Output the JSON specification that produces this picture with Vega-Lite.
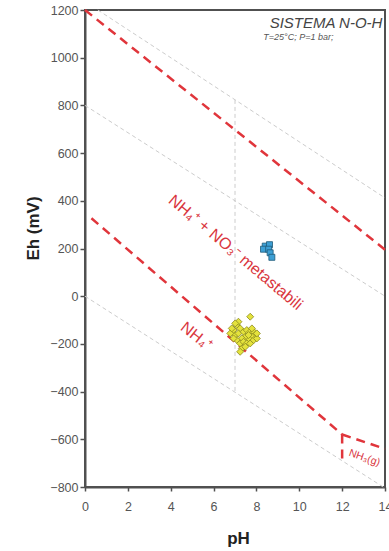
{
  "$schema": "https://vega.github.io/schema/vega-lite/v6.json",
  "autosize": {"type": "none"},
  "padding": {"left": 85, "top": 10, "right": 4, "bottom": 64},
  "width": 300,
  "height": 477,
  "background": "white",
  "config": {
    "font": "Liberation Sans",
    "view": {"stroke": "#505050", "strokeWidth": 2},
    "axis": {
      "grid": false,
      "labelFlush": false,
      "labelOverlap": false,
      "domainColor": "#505050",
      "domainWidth": 2,
      "tickColor": "#505050",
      "tickWidth": 1.5,
      "labelFont": "Liberation Sans",
      "labelFontSize": 12.5,
      "labelColor": "#555555",
      "titleFont": "Liberation Sans",
      "titleFontWeight": "bold",
      "titleFontSize": 17,
      "titleColor": "#222222"
    }
  },
  "datasets": {
    "limiti_acqua": [
      {"pH1": 0.6, "Eh1": 1200, "pH2": 14, "Eh2": 412},
      {"pH1": 0, "Eh1": 800, "pH2": 14, "Eh2": 0},
      {"pH1": 0, "Eh1": 0, "pH2": 14, "Eh2": -805},
      {"pH1": 7, "Eh1": 823, "pH2": 7, "Eh2": -403}
    ],
    "limiti_azoto": [
      {"pH1": 0, "Eh1": 1200, "pH2": 14, "Eh2": 195},
      {"pH1": 0.3, "Eh1": 327, "pH2": 12, "Eh2": -580},
      {"pH1": 12, "Eh1": -580, "pH2": 14, "Eh2": -640},
      {"pH1": 12, "Eh1": -580, "pH2": 12, "Eh2": -690}
    ],
    "campioni": [
      {"gruppo": "B", "pH": 8.41, "Eh": 210},
      {"gruppo": "B", "pH": 8.61, "Eh": 216},
      {"gruppo": "B", "pH": 8.33, "Eh": 197},
      {"gruppo": "B", "pH": 8.57, "Eh": 197},
      {"gruppo": "B", "pH": 8.64, "Eh": 182},
      {"gruppo": "B", "pH": 8.72, "Eh": 163},
      {"gruppo": "A", "pH": 6.93, "Eh": -142},
      {"gruppo": "A", "pH": 7.09, "Eh": -121},
      {"gruppo": "A", "pH": 7.24, "Eh": -135},
      {"gruppo": "A", "pH": 7.01, "Eh": -163},
      {"gruppo": "A", "pH": 7.16, "Eh": -156},
      {"gruppo": "A", "pH": 7.40, "Eh": -149},
      {"gruppo": "A", "pH": 7.55, "Eh": -142},
      {"gruppo": "A", "pH": 7.71, "Eh": -149},
      {"gruppo": "A", "pH": 7.87, "Eh": -149},
      {"gruppo": "A", "pH": 7.94, "Eh": -163},
      {"gruppo": "A", "pH": 7.79, "Eh": -170},
      {"gruppo": "A", "pH": 7.63, "Eh": -177},
      {"gruppo": "A", "pH": 7.48, "Eh": -170},
      {"gruppo": "A", "pH": 7.32, "Eh": -177},
      {"gruppo": "A", "pH": 7.09, "Eh": -184},
      {"gruppo": "A", "pH": 6.93, "Eh": -177},
      {"gruppo": "A", "pH": 7.24, "Eh": -198},
      {"gruppo": "A", "pH": 7.40, "Eh": -191},
      {"gruppo": "A", "pH": 7.55, "Eh": -198},
      {"gruppo": "A", "pH": 7.71, "Eh": -198},
      {"gruppo": "A", "pH": 7.87, "Eh": -184},
      {"gruppo": "A", "pH": 8.02, "Eh": -177},
      {"gruppo": "A", "pH": 7.32, "Eh": -219},
      {"gruppo": "A", "pH": 7.48, "Eh": -212},
      {"gruppo": "A", "pH": 7.24, "Eh": -233},
      {"gruppo": "A", "pH": 6.78, "Eh": -156},
      {"gruppo": "A", "pH": 6.85, "Eh": -135},
      {"gruppo": "A", "pH": 7.16, "Eh": -107},
      {"gruppo": "A", "pH": 7.01, "Eh": -114},
      {"gruppo": "A", "pH": 7.63, "Eh": -163},
      {"gruppo": "A", "pH": 7.79, "Eh": -135},
      {"gruppo": "A", "pH": 8.02, "Eh": -156},
      {"gruppo": "A", "pH": 7.71, "Eh": -86}
    ]
  },
  "layer": [
    {
      "data": {"name": "limiti_acqua"},
      "mark": {"type": "rule", "color": "#cccccc", "strokeWidth": 1, "strokeDash": [4, 3]},
      "encoding": {
        "x": {"field": "pH1", "type": "quantitative", "title": "pH",
              "scale": {"domain": [0, 14], "nice": false},
              "axis": {"values": [0, 2, 4, 6, 8, 10, 12, 14], "format": "d", "tickSize": 4, "labelPadding": 9,
                       "titleX": 153, "titleY": 56, "titleBaseline": "alphabetic"}},
        "y": {"field": "Eh1", "type": "quantitative", "title": "Eh (mV)",
              "scale": {"domain": [-800, 1200], "nice": false},
              "axis": {"values": [-800, -600, -400, -200, 0, 200, 400, 600, 800, 1000, 1200],
                       "format": "d", "tickSize": 5, "labelPadding": 2,
                       "titleX": -52, "titleY": 218, "titleAngle": -90,
                       "titleAlign": "center", "titleBaseline": "middle"}},
        "x2": {"field": "pH2"},
        "y2": {"field": "Eh2"}
      }
    },
    {
      "data": {"name": "limiti_azoto"},
      "mark": {"type": "rule", "color": "#e0353b", "strokeWidth": 2.5, "strokeDash": [9, 6]},
      "encoding": {
        "x": {"field": "pH1", "type": "quantitative"},
        "y": {"field": "Eh1", "type": "quantitative"},
        "x2": {"field": "pH2"},
        "y2": {"field": "Eh2"}
      }
    },
    {
      "data": {"values": [{"testo": "SISTEMA  N-O-H", "pH": 13.88, "Eh": 1124}]},
      "mark": {"type": "text", "align": "right", "baseline": "alphabetic", "fontSize": 15,
               "fontStyle": "italic", "color": "#444444"},
      "encoding": {
        "x": {"field": "pH", "type": "quantitative"},
        "y": {"field": "Eh", "type": "quantitative"},
        "text": {"field": "testo"}
      }
    },
    {
      "data": {"values": [{"testo": "T=25°C; P=1 bar;", "pH": 8.32, "Eh": 1074}]},
      "mark": {"type": "text", "align": "left", "baseline": "alphabetic", "fontSize": 9,
               "fontStyle": "italic", "color": "#555555"},
      "encoding": {
        "x": {"field": "pH", "type": "quantitative"},
        "y": {"field": "Eh", "type": "quantitative"},
        "text": {"field": "testo"}
      }
    },
    {
      "data": {"values": [{"testo": "NH₄⁺ + NO₃⁻ metastabili", "pH": 7.03, "Eh": 183}]},
      "mark": {"type": "text", "align": "center", "baseline": "middle", "fontSize": 16,
               "angle": 40, "color": "#d9363e"},
      "encoding": {
        "x": {"field": "pH", "type": "quantitative"},
        "y": {"field": "Eh", "type": "quantitative"},
        "text": {"field": "testo"}
      }
    },
    {
      "data": {"values": [{"testo": "NH₄⁺", "pH": 5.19, "Eh": -167}]},
      "mark": {"type": "text", "align": "center", "baseline": "middle", "fontSize": 16,
               "angle": 38, "color": "#d9363e"},
      "encoding": {
        "x": {"field": "pH", "type": "quantitative"},
        "y": {"field": "Eh", "type": "quantitative"},
        "text": {"field": "testo"}
      }
    },
    {
      "data": {"values": [{"testo": "NH₃(g)", "pH": 13.04, "Eh": -678}]},
      "mark": {"type": "text", "align": "center", "baseline": "middle", "fontSize": 10.5,
               "angle": 19, "color": "#d9363e"},
      "encoding": {
        "x": {"field": "pH", "type": "quantitative"},
        "y": {"field": "Eh", "type": "quantitative"},
        "text": {"field": "testo"}
      }
    },
    {
      "data": {"name": "campioni"},
      "mark": {"type": "point", "filled": true, "opacity": 1, "strokeWidth": 0.8},
      "encoding": {
        "x": {"field": "pH", "type": "quantitative"},
        "y": {"field": "Eh", "type": "quantitative"},
        "shape": {"field": "gruppo", "type": "nominal",
                  "scale": {"domain": ["A", "B"], "range": ["diamond", "square"]}, "legend": null},
        "fill": {"field": "gruppo", "type": "nominal",
                 "scale": {"domain": ["A", "B"], "range": ["#e4e23c", "#3d9fd4"]}, "legend": null},
        "stroke": {"field": "gruppo", "type": "nominal",
                   "scale": {"domain": ["A", "B"], "range": ["#8c8a1e", "#1f5a78"]}, "legend": null},
        "size": {"field": "gruppo", "type": "nominal",
                 "scale": {"domain": ["A", "B"], "range": [49, 36]}, "legend": null}
      }
    }
  ]
}
